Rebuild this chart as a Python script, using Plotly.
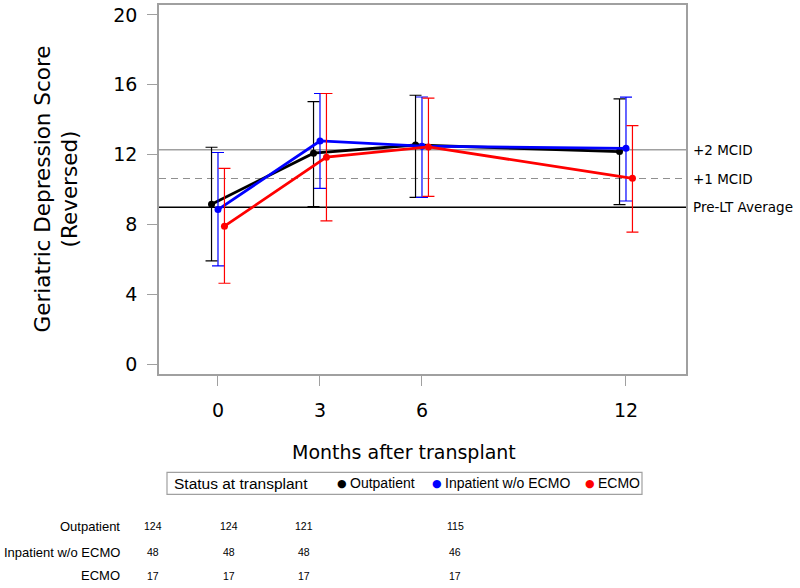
import plotly.graph_objects as go

# ---------------- data ----------------
months = [0, 3, 6, 12]
groups = ["Outpatient", "Inpatient w/o ECMO", "ECMO"]

out_mean = [9.15, 12.08, 12.55, 12.17]
out_upper = [12.42, 15.04, 15.40, 15.19]
out_lower = [5.91, 9.02, 9.55, 9.13]

inp_mean = [8.85, 12.78, 12.48, 12.36]
inp_upper = [12.12, 15.50, 15.30, 15.29]
inp_lower = [5.62, 10.07, 9.55, 9.34]

ecmo_mean = [7.90, 11.85, 12.44, 10.64]
ecmo_upper = [11.21, 15.50, 15.23, 13.66]
ecmo_lower = [4.63, 8.20, 9.61, 7.56]

ref_values = [12.28, 10.63, 8.98]
ref_labels = ["+2 MCID", "+1 MCID", "Pre-LT Average"]

n_out = [124, 124, 121, 115]
n_inp = [48, 48, 48, 46]
n_ecmo = [17, 17, 17, 17]

y_ticks = [0, 4, 8, 12, 16, 20]
legend_title = "Status at transplant"

# ---------------- style ----------------
colors = ["#000000", "#0000ff", "#ff0000"]
offsets = [-0.19, 0.0, 0.19]
ref_styles = [dict(color="#a0a0a0", width=1.5, dash="solid"),
              dict(color="#909090", width=1.2, dash="7px,5px"),
              dict(color="#000000", width=1.5, dash="solid")]
frame_color = "#a0a0a0"
AX_FONT = "DejaVu Sans"
LEG_FONT = "Liberation Sans"

W, H = 800, 588
ML, MR, MT, MB = 159, 114, 3, 214
PW, PH = W - ML - MR, H - MT - MB


def px_x(px):
    return (px - ML) / PW


def px_y(py):
    return (H - MB - py) / PH


fig = go.Figure()

series = [(out_mean, out_upper, out_lower),
          (inp_mean, inp_upper, inp_lower),
          (ecmo_mean, ecmo_upper, ecmo_lower)]

for (mean, up, lo), name, c, off in zip(series, groups, colors, offsets):
    fig.add_trace(go.Scatter(
        x=[m + off for m in months], y=mean, mode="lines+markers",
        line=dict(color=c, width=2.8), marker=dict(color=c, size=7),
        error_y=dict(type="data", symmetric=False,
                     array=[u - m for u, m in zip(up, mean)],
                     arrayminus=[m - l for m, l in zip(mean, lo)],
                     color=c, thickness=1.2, width=6),
        showlegend=False, name=name, hoverinfo="skip"))

for v, lab, st in zip(ref_values, ref_labels, ref_styles):
    fig.add_shape(type="line", xref="paper", x0=0, x1=1, yref="y", y0=v, y1=v,
                  line=st, layer="below")
    fig.add_annotation(xref="paper", x=px_x(691), yref="y", y=v, text=lab,
                       showarrow=False, xanchor="left", yanchor="middle",
                       font=dict(family=AX_FONT, size=13.5, color="#000"))

# axis titles
fig.add_annotation(xref="paper", x=px_x(56), yref="paper", y=0.5,
                   text="Geriatric Depression Score<br>(Reversed)", textangle=-90,
                   showarrow=False, xanchor="center", yanchor="middle",
                   font=dict(family=AX_FONT, size=21.5, color="#000"))
fig.add_annotation(xref="paper", x=px_x(404), yref="paper", y=px_y(452),
                   text="Months after transplant",
                   showarrow=False, xanchor="center", yanchor="middle",
                   font=dict(family=AX_FONT, size=19, color="#000"))

# legend (boxed)
leg_y = 484
fig.add_shape(type="rect", xref="paper", yref="paper",
              x0=px_x(167), x1=px_x(642), y0=px_y(473), y1=px_y(495),
              line=dict(color=frame_color, width=1.2), fillcolor="white")
fig.add_annotation(xref="paper", x=px_x(172), yref="paper", y=px_y(leg_y),
                   text=legend_title, showarrow=False, xanchor="left", yanchor="middle",
                   font=dict(family=LEG_FONT, size=15.5, color="#000"))
leg_dot_x = [342, 437, 590]
for name, c, dx in zip(groups, colors, leg_dot_x):
    fig.add_annotation(xref="paper", x=px_x(dx), yref="paper", y=px_y(leg_y),
                       text="●", showarrow=False, xanchor="center", yanchor="middle",
                       font=dict(family="DejaVu Sans", size=11, color=c))
    fig.add_annotation(xref="paper", x=px_x(dx + 6), yref="paper", y=px_y(leg_y),
                       text=name, showarrow=False, xanchor="left", yanchor="middle",
                       font=dict(family=LEG_FONT, size=14, color="#000"))

# at-risk table
row_y = [527, 553, 577]
col_x0, col_dx = 153, 25.2
TBL_FONT = "Liberation Sans"
for name, counts, ry in zip(groups, [n_out, n_inp, n_ecmo], row_y):
    fig.add_annotation(xref="paper", x=px_x(122), yref="paper", y=px_y(ry),
                       text=name, showarrow=False, xanchor="right", yanchor="middle",
                       font=dict(family=TBL_FONT, size=13, color="#000"))
    for m, n in zip(months, counts):
        fig.add_annotation(xref="paper", x=px_x(col_x0 + col_dx * m), yref="paper",
                           y=px_y(ry), text=str(n), showarrow=False,
                           xanchor="center", yanchor="middle",
                           font=dict(family=TBL_FONT, size=10.5, color="#000"))

fig.update_layout(
    width=W, height=H, margin=dict(l=ML, r=MR, t=MT, b=MB),
    paper_bgcolor="white", plot_bgcolor="white", showlegend=False,
    xaxis=dict(range=[-1.735, 13.765], tickvals=months, showgrid=False, zeroline=False,
               showline=True, mirror=True, linecolor=frame_color, linewidth=1.5,
               ticks="outside", ticklen=10, tickcolor=frame_color, tickwidth=1.2,
               ticklabelstandoff=8,
               tickfont=dict(family=AX_FONT, size=19, color="#000")),
    yaxis=dict(range=[-0.57, 20.57], tickvals=y_ticks, showgrid=False, zeroline=False,
               showline=True, mirror=True, linecolor=frame_color, linewidth=1.5,
               ticks="outside", ticklen=10, tickcolor=frame_color, tickwidth=1.2,
               ticklabelstandoff=6,
               tickfont=dict(family=AX_FONT, size=19, color="#000")),
)

fig.write_html("out.html", config={"displayModeBar": False},
               post_script="document.body.style.margin='0';")
